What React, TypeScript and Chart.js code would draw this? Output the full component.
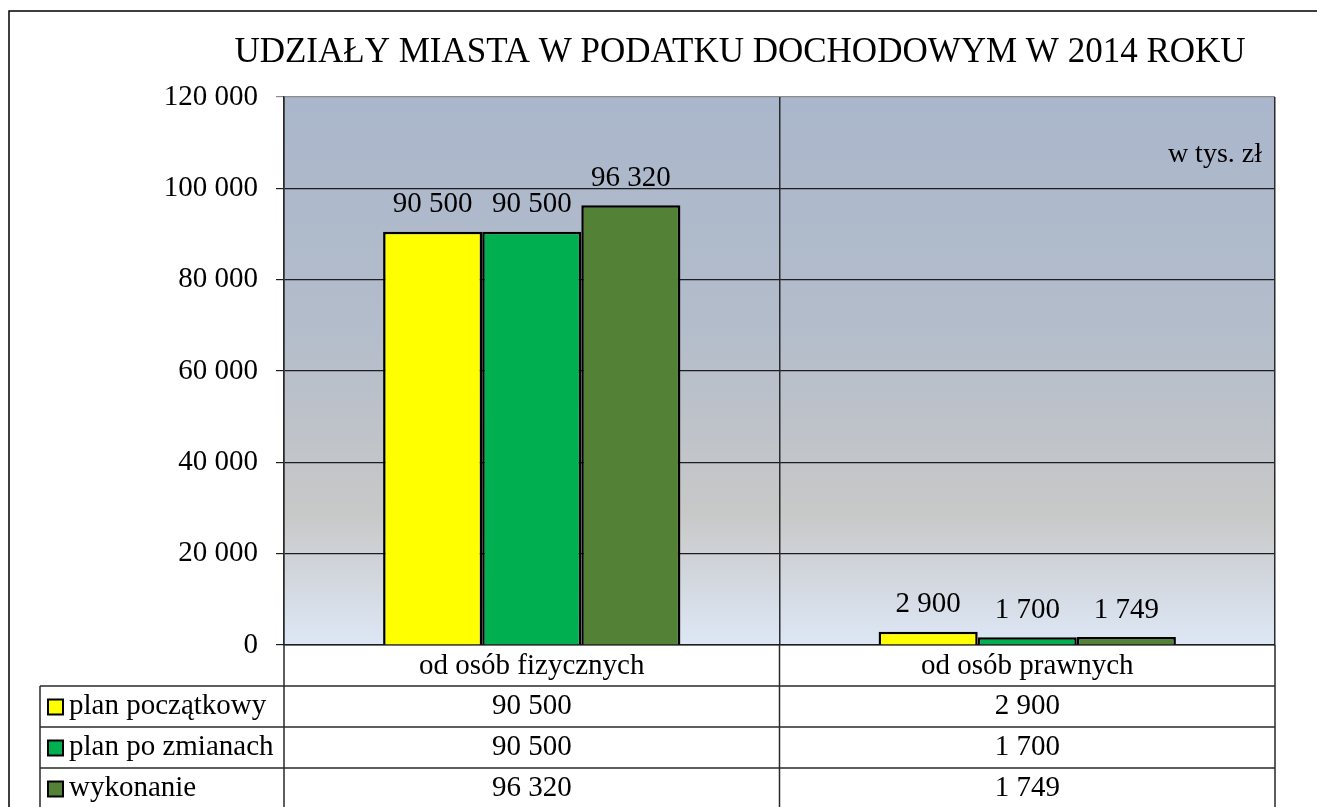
import React, { useEffect, useRef } from "react";
import { Chart, registerables } from "chart.js";

Chart.register(...registerables);

const TITLE = "UDZIAŁY MIASTA W PODATKU DOCHODOWYM W 2014 ROKU";
const UNIT = "w tys. zł";
const categories = ["od osób fizycznych", "od osób prawnych"];
const seriesNames = ["plan początkowy", "plan po zmianach", "wykonanie"];
const planPoczatkowy = [90500, 2900];
const planPoZmianach = [90500, 1700];
const wykonanie = [96320, 1749];
const seriesColors = ["#FFFF00", "#00B050", "#538135"];
const yTicks = [0, 20000, 40000, 60000, 80000, 100000, 120000];

const FONT = "'Liberation Serif', 'Times New Roman', serif";
const fmt = (v: number) => String(Math.round(v)).replace(/\B(?=(\d{3})+(?!\d))/g, " ");

const ROW_H = 41;
const TXT = 29;

const decorPlugin = {
  id: "decor",
  beforeDraw(chart: any) {
    const { ctx, chartArea: a } = chart;
    ctx.save();
    ctx.fillStyle = "#ffffff";
    ctx.fillRect(0, 0, chart.width, chart.height);
    const g = ctx.createLinearGradient(0, a.top, 0, a.bottom);
    g.addColorStop(0, "#AAB6CB");
    g.addColorStop(0.4, "#B2BCCB");
    g.addColorStop(0.76, "#C8C8C8");
    g.addColorStop(1, "#DDE7F5");
    ctx.fillStyle = g;
    ctx.fillRect(a.left, a.top, a.right - a.left, a.bottom - a.top);
    // outer frame
    ctx.strokeStyle = "#000";
    ctx.lineWidth = 1.5;
    ctx.beginPath();
    ctx.moveTo(9, chart.height + 5);
    ctx.lineTo(9, 11);
    ctx.lineTo(chart.width + 5, 11);
    ctx.stroke();
    // title
    ctx.fillStyle = "#000";
    ctx.font = `35px ${FONT}`;
    ctx.textAlign = "center";
    ctx.textBaseline = "middle";
    ctx.fillText(TITLE, 740, 53);
    ctx.restore();
  },
  afterDatasetsDraw(chart: any) {
    const { ctx, chartArea: a } = chart;
    ctx.save();
    ctx.fillStyle = "#000";
    ctx.font = `${TXT}px ${FONT}`;
    ctx.textAlign = "center";
    ctx.textBaseline = "middle";
    chart.data.datasets.forEach((ds: any, di: number) => {
      const meta = chart.getDatasetMeta(di);
      meta.data.forEach((bar: any, i: number) => {
        ctx.fillText(fmt(ds.data[i]), bar.x, bar.y - 27);
      });
    });
    ctx.font = `28px ${FONT}`;
    ctx.textAlign = "right";
    ctx.fillText(UNIT, a.right - 13, 155);
    ctx.restore();
  },
  afterDraw(chart: any) {
    const { ctx, chartArea: a } = chart;
    const x = chart.scales.x;
    const left = 40;
    const rowTop = a.bottom + ROW_H;
    const bottom = chart.height + 5;
    const n = categories.length;
    const half = (x.getPixelForValue(1) - x.getPixelForValue(0)) / 2;
    const borders: number[] = [];
    for (let i = 0; i < n; i++) borders.push(x.getPixelForValue(i) - half);
    borders.push(x.getPixelForValue(n - 1) + half);
    ctx.save();
    ctx.strokeStyle = "#2a2a2a";
    ctx.lineWidth = 1.5;
    ctx.beginPath();
    borders.forEach((bx) => {
      ctx.moveTo(bx, a.bottom);
      ctx.lineTo(bx, bottom);
    });
    ctx.moveTo(left, rowTop);
    ctx.lineTo(left, bottom);
    for (let r = 0; r < seriesNames.length; r++) {
      const y = rowTop + r * ROW_H;
      ctx.moveTo(left, y);
      ctx.lineTo(borders[borders.length - 1], y);
    }
    ctx.stroke();
    ctx.font = `${TXT}px ${FONT}`;
    ctx.textBaseline = "middle";
    chart.data.datasets.forEach((ds: any, di: number) => {
      const cy = rowTop + di * ROW_H + ROW_H / 2;
      // legend key
      ctx.fillStyle = ds.backgroundColor;
      ctx.fillRect(48, cy - 7, 15, 15);
      ctx.strokeStyle = "#000";
      ctx.lineWidth = 2;
      ctx.strokeRect(48, cy - 7, 15, 15);
      ctx.fillStyle = "#000";
      ctx.textAlign = "left";
      ctx.fillText(ds.label, 69, cy);
      ctx.textAlign = "center";
      ds.data.forEach((v: number, i: number) => {
        ctx.fillText(fmt(v), x.getPixelForValue(i), cy);
      });
    });
    ctx.restore();
  },
};

export default function App() {
  const ref = useRef<HTMLCanvasElement>(null);
  useEffect(() => {
    if (!ref.current) return;
    const values = [planPoczatkowy, planPoZmianach, wykonanie];
    const chart = new Chart(ref.current, {
      type: "bar",
      data: {
        labels: categories,
        datasets: seriesNames.map((name, i) => ({
          label: name,
          data: values[i],
          backgroundColor: seriesColors[i],
          borderColor: "#000",
          borderWidth: 2.5,
          categoryPercentage: 0.6,
          barPercentage: 1,
        })),
      },
      options: {
        responsive: false,
        animation: false,
        devicePixelRatio: 1,
        layout: { padding: { top: 97, right: 42, left: 0, bottom: 0 } },
        plugins: {
          legend: { display: false },
          title: { display: false },
          tooltip: { enabled: false },
        },
        scales: {
          y: {
            min: 0,
            max: 120000,
            afterBuildTicks: (s: any) => {
              s.ticks = yTicks.map((v) => ({ value: v }));
            },
            afterFit: (s: any) => {
              s.width = 284;
            },
            ticks: {
              color: "#000",
              font: { family: FONT, size: TXT },
              padding: 18,
              callback: (v: any) => fmt(Number(v)),
            },
            grid: {
              color: (c: any) => (c.tick && c.tick.value === 120000 ? "#8c8c8c" : "#1e1e1e"),
              lineWidth: 1.2,
              tickLength: 8,
              drawTicks: true,
            },
            border: { display: true, color: "#2a2a2a", width: 1.5 },
          },
          x: {
            afterFit: (s: any) => {
              s.height = 162;
            },
            ticks: {
              color: "#000",
              font: { family: FONT, size: TXT },
              padding: 4,
            },
            grid: {
              offset: true,
              drawTicks: false,
              color: (c: any) => (c.index === categories.length ? "#8c8c8c" : "#2a2a2a"),
              lineWidth: 1.5,
            },
            border: { display: true, color: "#1e1e1e", width: 1.5 },
          },
        },
      },
      plugins: [decorPlugin],
    } as any);
    return () => chart.destroy();
  }, []);
  return (
    <canvas
      ref={ref}
      width={1317}
      height={807}
      style={{ position: "absolute", left: 0, top: 0, display: "block" }}
    />
  );
}
